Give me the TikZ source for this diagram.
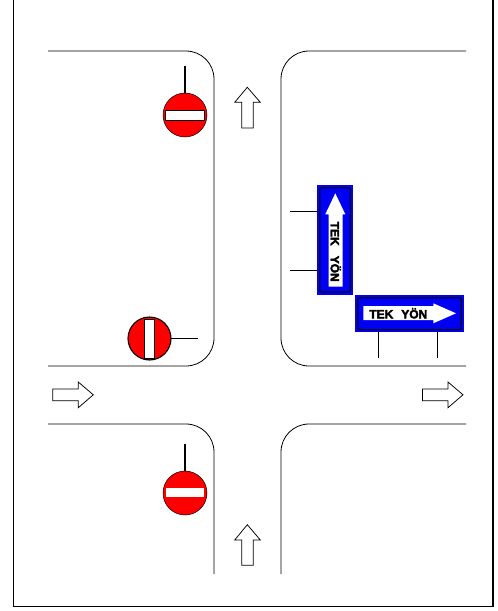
\documentclass[tikz,border=0pt]{standalone}
\usepackage{fontspec}
\setmainfont{Liberation Sans}
\newfontfamily\plaquefont[BoldFeatures={FakeBold=3}]{Liberation Sans}
\definecolor{signred}{RGB}{255,0,0}
\definecolor{signblue}{RGB}{0,0,245}
\definecolor{signnavy}{RGB}{0,0,30}
\tikzset{
  road/.style={draw=black,line width=0.8pt},
  framing/.style={draw=black,line width=1.1pt},
  stick/.style={draw=black,line width=1.1pt},
  flow/.style={draw=black,fill=white,line width=0.75pt,line join=miter},
  disc/.style={draw=black,fill=signred,line width=0.5pt},
  heavydisc/.style={draw=black,fill=signred,line width=1.1pt},
  bar/.style={draw=black,fill=white,line width=0.8pt},
  plate/.style={fill=signblue,draw=signblue,line width=0.6pt},
  rim/.style={draw=signnavy,line width=1.4pt,rounded corners=1.5pt},
  plaquearrow/.style={fill=white,draw=none},
  plaquetext/.style={font=\plaquefont\bfseries\fontsize{12}{13}\selectfont,inner sep=0pt,text=black}
}
\begin{document}
\begin{tikzpicture}[x=1pt,y=-1pt]
\useasboundingbox (0,0) rectangle (498,611);
% frame
\draw[framing] (13.5,0) -- (13.5,606.5) -- (493,606.5) -- (493,0);
% roads
\draw[road] (48,51) -- (186,51) arc[start angle=90,end angle=0,x radius=28,y radius=-28] -- (214,338) arc[start angle=0,end angle=-90,x radius=28,y radius=-28] -- (48,366);
\draw[road] (466,51) -- (309,51) arc[start angle=90,end angle=180,x radius=28,y radius=-28] -- (281,338) arc[start angle=180,end angle=270,x radius=28,y radius=-28] -- (466,366);
\draw[road] (48,424) -- (186,424) arc[start angle=90,end angle=0,x radius=28,y radius=-28] -- (214,574);
\draw[road] (466,424) -- (309,424) arc[start angle=90,end angle=180,x radius=28,y radius=-28] -- (281,574);
% flow arrows
\draw[flow] (247.3,87.3) -- (260.3,102.3) -- (253.3,102.3) -- (253.3,128) -- (241.7,128) -- (241.7,102.3) -- (234.7,102.3) -- cycle;
\draw[flow] (247.3,524.7) -- (260.3,540) -- (253.3,540) -- (253.3,565.3) -- (241.7,565.3) -- (241.7,540) -- (234.7,540) -- cycle;
\draw[flow] (93.3,394.8) -- (78.3,382) -- (78.3,389) -- (52.7,389) -- (52.7,400.7) -- (78.3,400.7) -- (78.3,407.7) -- cycle;
\draw[flow] (463,394.8) -- (448,382) -- (448,389) -- (422.4,389) -- (422.4,400.7) -- (448,400.7) -- (448,407.7) -- cycle;
% no-entry sign, top
\draw[stick] (185,66) -- (185,93);
\draw[disc] (185,115) circle[radius=22];
\draw[bar] (165.5,110.5) rectangle (204.5,120);
% no-entry sign, side
\draw[stick] (171,338.5) -- (198,338.5);
\draw[heavydisc] (149.5,338.5) circle[radius=21.5];
\draw[bar] (144.5,319) rectangle (154.5,358);
% no-entry sign, bottom
\draw[stick] (185,444) -- (185,471);
\draw[disc] (185,493) circle[radius=22];
\fill[white] (166,488) rectangle (204,497);
% one-way sign, vertical
\draw[stick] (290,211.7) -- (318,211.7);
\draw[stick] (290,270.7) -- (318,270.7);
\fill[plate] (317.7,185.7) rectangle (352.3,294);
\draw[rim] (319.7,187.7) rectangle (350.3,292);
\fill[plaquearrow] (335.3,193.3) -- (345.3,214.3) -- (342.7,214.3) -- (342.7,286.7) -- (328.7,286.7) -- (328.7,214.3) -- (325.3,214.3) -- cycle;
\node[plaquetext,rotate=-90] (vtext) at (335.8,251.7) {TEK\hspace{10pt}YÖN};
% one-way sign, horizontal
\draw[stick] (378.7,331.7) -- (378.7,358);
\draw[stick] (437.7,331.7) -- (437.7,358);
\fill[plate] (355.7,295.7) rectangle (463.3,331.7);
\draw[rim] (357.7,297.7) rectangle (461.3,329.7);
\fill[plaquearrow] (456,313.3) -- (433.3,303.3) -- (433.3,306) -- (363.3,306) -- (363.3,320) -- (433.3,320) -- (433.3,323.3) -- cycle;
\node[plaquetext] (htext) at (398.3,313.3) {TEK\hspace{8pt}YÖN};
\end{tikzpicture}
\end{document}
